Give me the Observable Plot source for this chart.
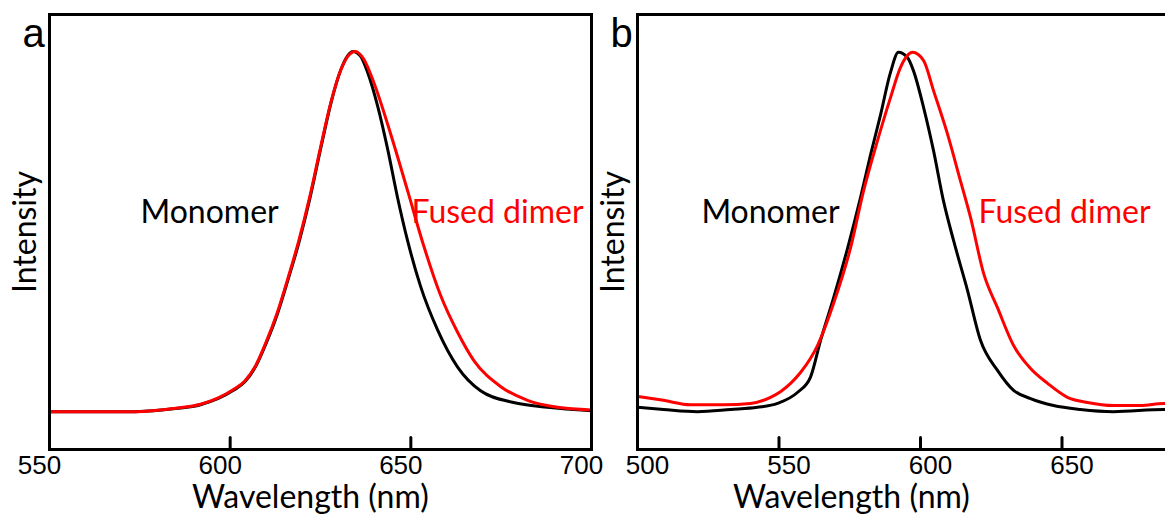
<!DOCTYPE html>
<html>
<head>
<meta charset="utf-8">
<script src="https://cdn.jsdelivr.net/npm/d3@7"></script>
<script src="https://cdn.jsdelivr.net/npm/@observablehq/plot@0.6"></script>
<style>
  html, body { margin: 0; padding: 0; background: #fff; overflow: hidden; }
  #wrap { position: relative; width: 1165px; height: 522px; overflow: hidden; background: #fff; }
  #wrap > div { position: absolute; top: 0; }
  #wrap svg { max-width: none !important; }
  #pa { left: 0; width: 620px; }
  #pb { left: 590px; width: 590px; }
</style>
</head>
<body>
<div id="wrap"><div id="pa"></div><div id="pb"></div></div>
<script>
// ---------- Panel a data (wavelength nm, normalized intensity) ----------
const aMonoWl = [550, 573.8, 584.9, 591.8, 600.9, 604, 607, 610, 613, 616, 619, 622, 625, 628, 630.5, 632.5, 634, 636, 638, 640.8, 643.6, 646.3, 649.1, 652.7, 657.4, 662.9, 669.3, 678.4, 687.8, 700];
const aMonoI  = [0.087, 0.087, 0.094, 0.103, 0.136, 0.155, 0.190, 0.245, 0.310, 0.390, 0.475, 0.575, 0.690, 0.800, 0.870, 0.905, 0.915, 0.905, 0.868, 0.790, 0.690, 0.580, 0.480, 0.375, 0.275, 0.190, 0.135, 0.108, 0.097, 0.089];
const aDimerWl = [550, 573.8, 584.9, 591.8, 600.9, 604, 607, 610, 613, 616, 619, 622, 625, 628, 630.5, 632.5, 634.6, 637, 639.7, 644.4, 649.1, 653.5, 658.2, 662.9, 667.4, 674.8, 682.3, 690.6, 700];
const aDimerI  = [0.087, 0.087, 0.095, 0.104, 0.138, 0.157, 0.192, 0.248, 0.314, 0.394, 0.480, 0.580, 0.694, 0.802, 0.870, 0.903, 0.915, 0.897, 0.845, 0.726, 0.595, 0.470, 0.355, 0.270, 0.205, 0.145, 0.113, 0.097, 0.091];

// ---------- Panel b data ----------
const bMonoWl = [500, 509.2, 521.2, 532.9, 542.4, 549.5, 556.5, 561.1, 564.7, 569.3, 574.2, 578.8, 582.3, 585.9, 589.4, 592.2, 595.4, 597.5, 601.1, 604.6, 608.1, 611.7, 616.6, 621.2, 627.2, 632.9, 638.9, 647.0, 656.5, 668.2, 685.9, 690];
const bMonoI  = [0.097, 0.092, 0.087, 0.092, 0.097, 0.106, 0.131, 0.166, 0.251, 0.349, 0.462, 0.579, 0.676, 0.770, 0.867, 0.913, 0.901, 0.871, 0.786, 0.687, 0.572, 0.480, 0.366, 0.251, 0.182, 0.136, 0.117, 0.101, 0.092, 0.087, 0.092, 0.092];
const bDimerWl = [500, 509.2, 518.7, 530.4, 539.9, 547.0, 550.5, 554.1, 557.6, 561.1, 563.6, 569.3, 575.3, 579.9, 584.8, 589.4, 592.9, 597.2, 601.1, 604.6, 609.5, 614.1, 617.7, 622.3, 627.2, 632.9, 638.9, 644.9, 651.9, 659.0, 668.2, 677.7, 685.9, 690];
const bDimerI  = [0.122, 0.113, 0.103, 0.103, 0.106, 0.120, 0.133, 0.152, 0.177, 0.209, 0.239, 0.336, 0.464, 0.595, 0.710, 0.809, 0.878, 0.913, 0.894, 0.825, 0.726, 0.618, 0.533, 0.405, 0.326, 0.239, 0.186, 0.152, 0.120, 0.108, 0.101, 0.101, 0.106, 0.106];

// ---------- Tick labels ----------
const aTickLabels = [550, 600, 650, 700];
const aInnerTicks = [600, 650];
const bTickLabels = [500, 550, 600, 650];
const bInnerTicks = [550, 600, 650];

// ---------- Annotation texts (data coordinates) ----------
const aNotes = [{text: "Monomer", wl: 594.3, i: 0.545, color: "black"}, {text: "Fused dimer", wl: 674.0, i: 0.545, color: "red"}];
const bNotes = [{text: "Monomer", wl: 547.0, i: 0.545, color: "black"}, {text: "Fused dimer", wl: 650.9, i: 0.545, color: "red"}];

const zip = (xs, ys) => xs.map((x, k) => ({wl: x, i: ys[k]}));
const TICK_LEN = 0.0276; // inward tick length as a fraction of the frame height (~12px)
const tickSegments = (ticks) => ticks.flatMap(t => [{wl: t, i: 0, t}, {wl: t, i: TICK_LEN, t}]);

function panel({letter, domain, width, marginLeft, marginRight, mono, dimer, tickLabels, innerTicks, notes, xLabelAt, curve, labelShift}) {
  return Plot.plot({
    width, height: 522,
    marginLeft, marginRight, marginTop: 14, marginBottom: 73,
    style: {fontFamily: "'Liberation Sans', Arial, sans-serif", fontSize: "26px", color: "black", background: "transparent", overflow: "visible"},
    x: {domain, label: null, axis: null},
    y: {domain: [0, 1], axis: null},
    marks: [
      Plot.text(tickLabels, {x: d => d, text: d => String(d), frameAnchor: "bottom", lineAnchor: "top", dy: 6, dx: labelShift, fontSize: 26, fill: "black"}),
      Plot.line(mono, {x: "wl", y: "i", stroke: "black", strokeWidth: 3, curve}),
      Plot.line(dimer, {x: "wl", y: "i", stroke: "#ff0000", strokeWidth: 3, curve}),
      Plot.text(notes, {x: "wl", y: "i", text: "text", fill: "color", fontFamily: "Lato, sans-serif", fontSize: 32}),
      Plot.text(["Wavelength (nm)"], {x: () => xLabelAt, frameAnchor: "bottom", dy: 58, fontFamily: "Lato, sans-serif", fontSize: 32, fill: "black"}),
      Plot.text(["Intensity"], {frameAnchor: "left", textAnchor: "middle", rotate: -90, dx: -24, fontFamily: "Lato, sans-serif", fontSize: 32, fill: "black"}),
      Plot.text([letter], {frameAnchor: "top-left", dx: -27, dy: 4, fontSize: 40, fill: "black"}),
      Plot.frame({stroke: "black", strokeWidth: 3}),
      Plot.line(tickSegments(innerTicks), {x: "wl", y: "i", z: "t", stroke: "black", strokeWidth: 3})
    ]
  });
}

document.getElementById("pa").append(panel({
  letter: "a", domain: [550, 700], width: 620, marginLeft: 49, marginRight: 29,
  mono: zip(aMonoWl, aMonoI), dimer: zip(aDimerWl, aDimerI),
  tickLabels: aTickLabels, innerTicks: aInnerTicks, notes: aNotes, xLabelAt: 622.2, curve: "monotone-x", labelShift: -10
}));
document.getElementById("pb").append(panel({
  letter: "b", domain: [500, 690], width: 590, marginLeft: 47, marginRight: 5.3,
  mono: zip(bMonoWl, bMonoI), dimer: zip(bDimerWl, bDimerI),
  tickLabels: bTickLabels, innerTicks: bInnerTicks, notes: bNotes, xLabelAt: 575.6, curve: "monotone-x", labelShift: 10
}));
</script>
</body>
</html>
